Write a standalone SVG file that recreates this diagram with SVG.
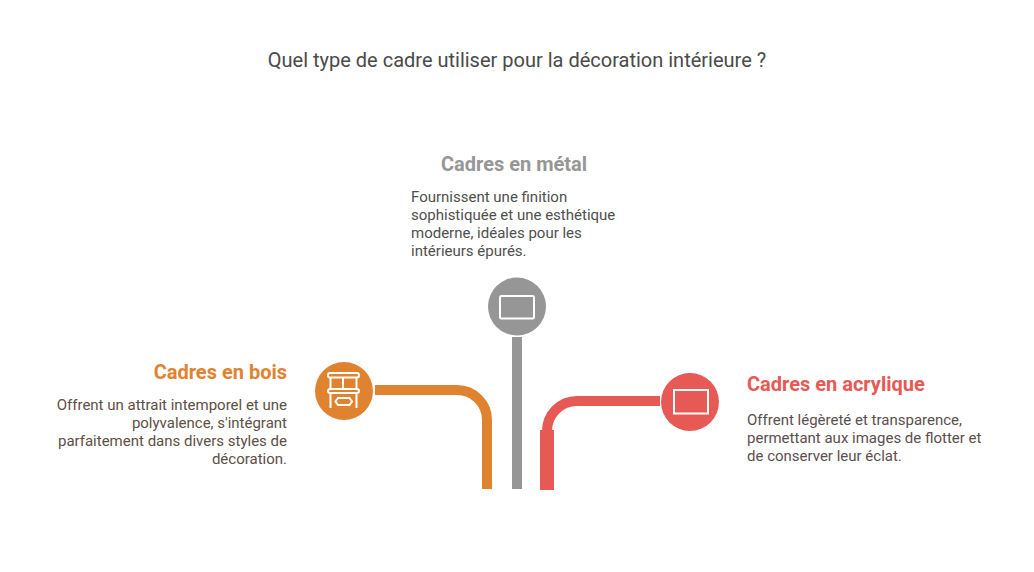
<svg xmlns="http://www.w3.org/2000/svg" width="1034" height="572" viewBox="0 0 1034 572">
<style>
text{font-family:Roboto,"Liberation Sans",sans-serif}
.t{font-size:20px;fill:#4a4a4a}
.h{font-size:20px;font-weight:700}
.b{font-size:15px}
.e{text-anchor:end}
.i{fill:none;stroke:#fff;stroke-width:2}
.c{fill:none;stroke-width:10}
</style>
<rect width="1034" height="572" fill="#fff"/>
<text class="t" x="517" y="67" text-anchor="middle">Quel type de cadre utiliser pour la décoration intérieure ?</text>
<g id="connectors">
<path class="c" stroke="#df8330" d="M375 390H457A30 30 0 0 1 487 420V489"/>
<path class="c" stroke="#969696" d="M517 337V489"/>
<path class="c" stroke="#e65955" d="M660 401H577A30 30 0 0 0 547 431V440"/>
<rect x="540" y="430" width="14" height="60" fill="#e65955"/>
</g>
<g id="node-bois">
<circle cx="344" cy="391" r="29" fill="#df8330"/>
<rect class="i" x="328" y="373" width="31" height="4.500" rx="2"/>
<rect class="i" x="328" y="389" width="31" height="4" rx="2"/>
<path class="i" d="M330.500 377V389M356.500 377V389M343 378V389M330.500 393V408M356.500 393V408"/>
<path class="i" d="M338 398H349.500L352 401.500L349.500 405H338L335.500 401.500Z"/>
<text class="h e" x="287" y="379" fill="#df8330">Cadres en bois</text>
<g class="b e" fill="#5c5046">
<text x="287" y="410">Offrent un attrait intemporel et une</text>
<text x="287" y="428">polyvalence, s'intégrant</text>
<text x="287" y="446">parfaitement dans divers styles de</text>
<text x="287" y="464">décoration.</text>
</g>
</g>
<g id="node-metal">
<circle cx="517" cy="306.500" r="29" fill="#969696"/>
<rect class="i" x="500" y="296" width="34" height="22.500" rx="1.500"/>
<text class="h" x="514" y="171" text-anchor="middle" fill="#969696">Cadres en métal</text>
<g class="b" fill="#4f4f4f">
<text x="411" y="202">Fournissent une finition</text>
<text x="411" y="220">sophistiquée et une esthétique</text>
<text x="411" y="238">moderne, idéales pour les</text>
<text x="411" y="256">intérieurs épurés.</text>
</g>
</g>
<g id="node-acrylique">
<circle cx="690" cy="402" r="29" fill="#e65955"/>
<rect class="i" x="674" y="390" width="34" height="23.500"/>
<text class="h" x="747" y="391" fill="#e65955">Cadres en acrylique</text>
<g class="b" fill="#5a4f4e">
<text x="747" y="425">Offrent légèreté et transparence,</text>
<text x="747" y="443">permettant aux images de flotter et</text>
<text x="747" y="461">de conserver leur éclat.</text>
</g>
</g>
</svg>
